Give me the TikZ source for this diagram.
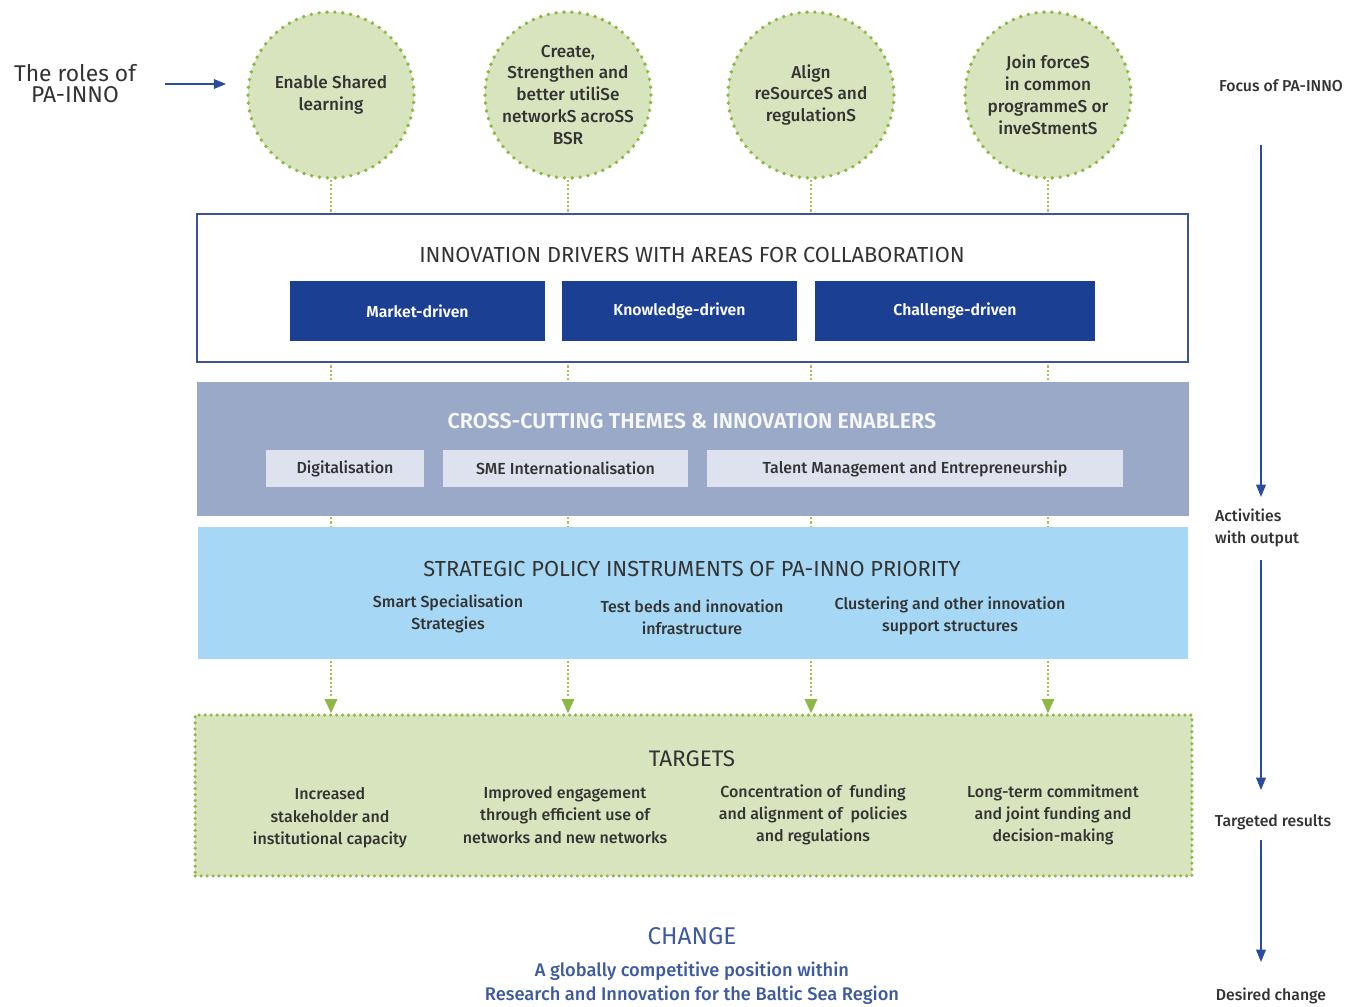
\documentclass[tikz,border=0pt]{standalone}
\usepackage{fontspec}
\setmainfont{Fira Sans}[UprightFont={* Medium}, BoldFont={* SemiBold}]
\newfontfamily\titlefont{Fira Sans}
\usetikzlibrary{arrows.meta,backgrounds}

\definecolor{leafgreen}{HTML}{8DB843}
\definecolor{palegreen}{HTML}{D8E4BD}
\definecolor{linkgreen}{HTML}{A9C04E}
\definecolor{navy}{HTML}{1B3F93}
\definecolor{framblue}{HTML}{3F5299}
\definecolor{greyblue}{HTML}{9AA9C7}
\definecolor{paleblue}{HTML}{DEE2EE}
\definecolor{skyblue}{HTML}{A6D8F5}
\definecolor{inkblue}{HTML}{3D5AA0}
\definecolor{arrowblue}{HTML}{2A4C9C}
\definecolor{textgrey}{HTML}{333333}

\tikzset{
  rolecircle/.style={circle, fill=palegreen, draw=leafgreen, line width=2.2pt,
    line cap=round, dash pattern=on 0pt off 4.5pt, minimum size=3.32cm,
    inner sep=0pt, align=center, text=textgrey, font=\fontsize{9.8}{12.5}\selectfont},
  layerbox/.style={rectangle, inner sep=0pt},
  drivebox/.style={rectangle, fill=navy, text=white, inner sep=0pt,
    minimum height=1.2cm, font=\fontsize{9}{10}\selectfont\bfseries},
  enablebox/.style={rectangle, fill=paleblue, text=textgrey, inner sep=0pt,
    minimum height=0.74cm, font=\fontsize{9.1}{10}\selectfont},
  title/.style={text=textgrey, font=\titlefont\fontsize{12.4}{13}\selectfont},
  item/.style={align=center, text=textgrey, font=\fontsize{9.1}{12.7}\selectfont},
  side/.style={text=textgrey, font=\fontsize{9}{12.5}\selectfont},
  link/.style={linkgreen, line width=0.8pt, dash pattern=on 1.2pt off 1.2pt,
    -{Triangle[width=7pt,length=8pt,color=leafgreen]}},
  flow/.style={arrowblue, line width=0.9pt, -{Triangle[width=5.5pt,length=7pt]}}
}

\begin{document}
\begin{tikzpicture}[x=0.02cm, y=-0.02cm]
  \useasboundingbox (0,0) rectangle (1347,1007);

  % roles of PA-INNO
  \node (roles) at (75,84) [align=center, text=textgrey, font=\titlefont\fontsize{13}{12}\selectfont] {The roles of\\PA-INNO};
  \node (r1) at (331,95) [rolecircle] {Enable Shared\\learning};
  \node (r2) at (568,95) [rolecircle] {Create,\\Strengthen and\\better utiliSe\\networkS acroSS\\BSR};
  \node (r3) at (811,95) [rolecircle] {Align\\reSourceS and\\regulationS};
  \node (r4) at (1048,95) [rolecircle] {Join forceS\\in common\\programmeS or\\inveStmentS};
  \coordinate (rolesarrow) at (165,84);
  \draw[flow, shorten >=0.4cm] (rolesarrow) -- (rolesarrow -| r1.west);

  % innovation drivers
  \node (drivers) at (692.5,288) [layerbox, fill=white, draw=framblue, line width=1pt,
    minimum width=19.82cm, minimum height=2.96cm] {};
  \node (driverstitle) at (692,255) [title] {INNOVATION DRIVERS WITH AREAS FOR COLLABORATION};
  \node (market) at (417.5,311) [drivebox, minimum width=5.1cm] {Market-driven};
  \node (knowledge) at (679.5,311) [drivebox, minimum width=4.7cm] {Knowledge-driven};
  \node (challenge) at (955,311) [drivebox, minimum width=5.6cm] {Challenge-driven};

  % cross-cutting themes
  \node (themes) at (693,449) [layerbox, fill=greyblue, minimum width=19.84cm, minimum height=2.68cm] {};
  \node (themestitle) at (692,421) [text=white!92!greyblue, font=\fontsize{12.2}{13}\selectfont\bfseries] {CROSS-CUTTING THEMES \& INNOVATION ENABLERS};
  \node (digital) at (345,468.5) [enablebox, minimum width=3.16cm] {Digitalisation};
  \node (sme) at (565.5,468.5) [enablebox, minimum width=4.9cm] {SME Internationalisation};
  \node (talent) at (915,468.5) [enablebox, minimum width=8.32cm] {Talent Management and Entrepreneurship};

  % policy instruments
  \node (policy) at (693,593) [layerbox, fill=skyblue, minimum width=19.8cm, minimum height=2.64cm] {};
  \node (policytitle) at (692,569) [title] {STRATEGIC POLICY INSTRUMENTS OF PA-INNO PRIORITY};
  \node (smart) at (448,614) [item] {Smart Specialisation\\Strategies};
  \node (testbeds) at (692,617) [item] {Test beds and innovation\\infrastructure};
  \node (cluster) at (950,616) [item] {Clustering and other innovation\\support structures};

  % targets
  \node (targets) at (693.5,795.5) [layerbox, fill=palegreen, draw=leafgreen, line width=2pt,
    line cap=round, dash pattern=on 0pt off 3.4pt, minimum width=19.94cm, minimum height=3.22cm] {};
  \node (targetstitle) at (692,759) [title, font=\titlefont\fontsize{12.8}{13}\selectfont] {TARGETS};
  \node (t1) at (330,818) [item] {Increased\\stakeholder and\\institutional capacity};
  \node (t2) at (565,815) [item] {Improved engagement\\through efficient use of\\networks and new networks};
  \node (t3) at (813,815) [item] {Concentration of~ funding\\and alignment of~ policies\\and regulations};
  \node (t4) at (1053,815) [item] {Long-term commitment\\and joint funding and\\decision-making};

  % change
  \node (change) at (692,936) [text=inkblue, font=\titlefont\fontsize{13.8}{14}\selectfont] {CHANGE};
  \node (changetext) at (692,983) [align=center, text=inkblue, font=\fontsize{10.4}{13.6}\selectfont] {A globally competitive position within\\Research and Innovation for the Baltic Sea Region};

  % links from roles to targets
  \begin{scope}[on background layer]
    \foreach \role in {r1,r2,r3,r4}
      \draw[link] (\role.south) -- (\role.south |- targets.north);
  \end{scope}

  % right column
  \node (focus) at (1281,86) [side] {Focus of PA-INNO};
  \node (activities) at (1209,528) [side, anchor=west, align=left] {Activities\\with output};
  \node (results) at (1273,822) [side] {Targeted results};
  \node (desired) at (1271,996) [side] {Desired change};
  \coordinate (f1) at (1261,145);
  \coordinate (f2) at (1261,497);
  \coordinate (a1) at (1261,560);
  \coordinate (a2) at (1261,790);
  \coordinate (d1) at (1261,840);
  \coordinate (d2) at (1261,962);
  \draw[flow] (f1) -- (f2);
  \draw[flow] (a1) -- (a2);
  \draw[flow] (d1) -- (d2);
\end{tikzpicture}
\end{document}
